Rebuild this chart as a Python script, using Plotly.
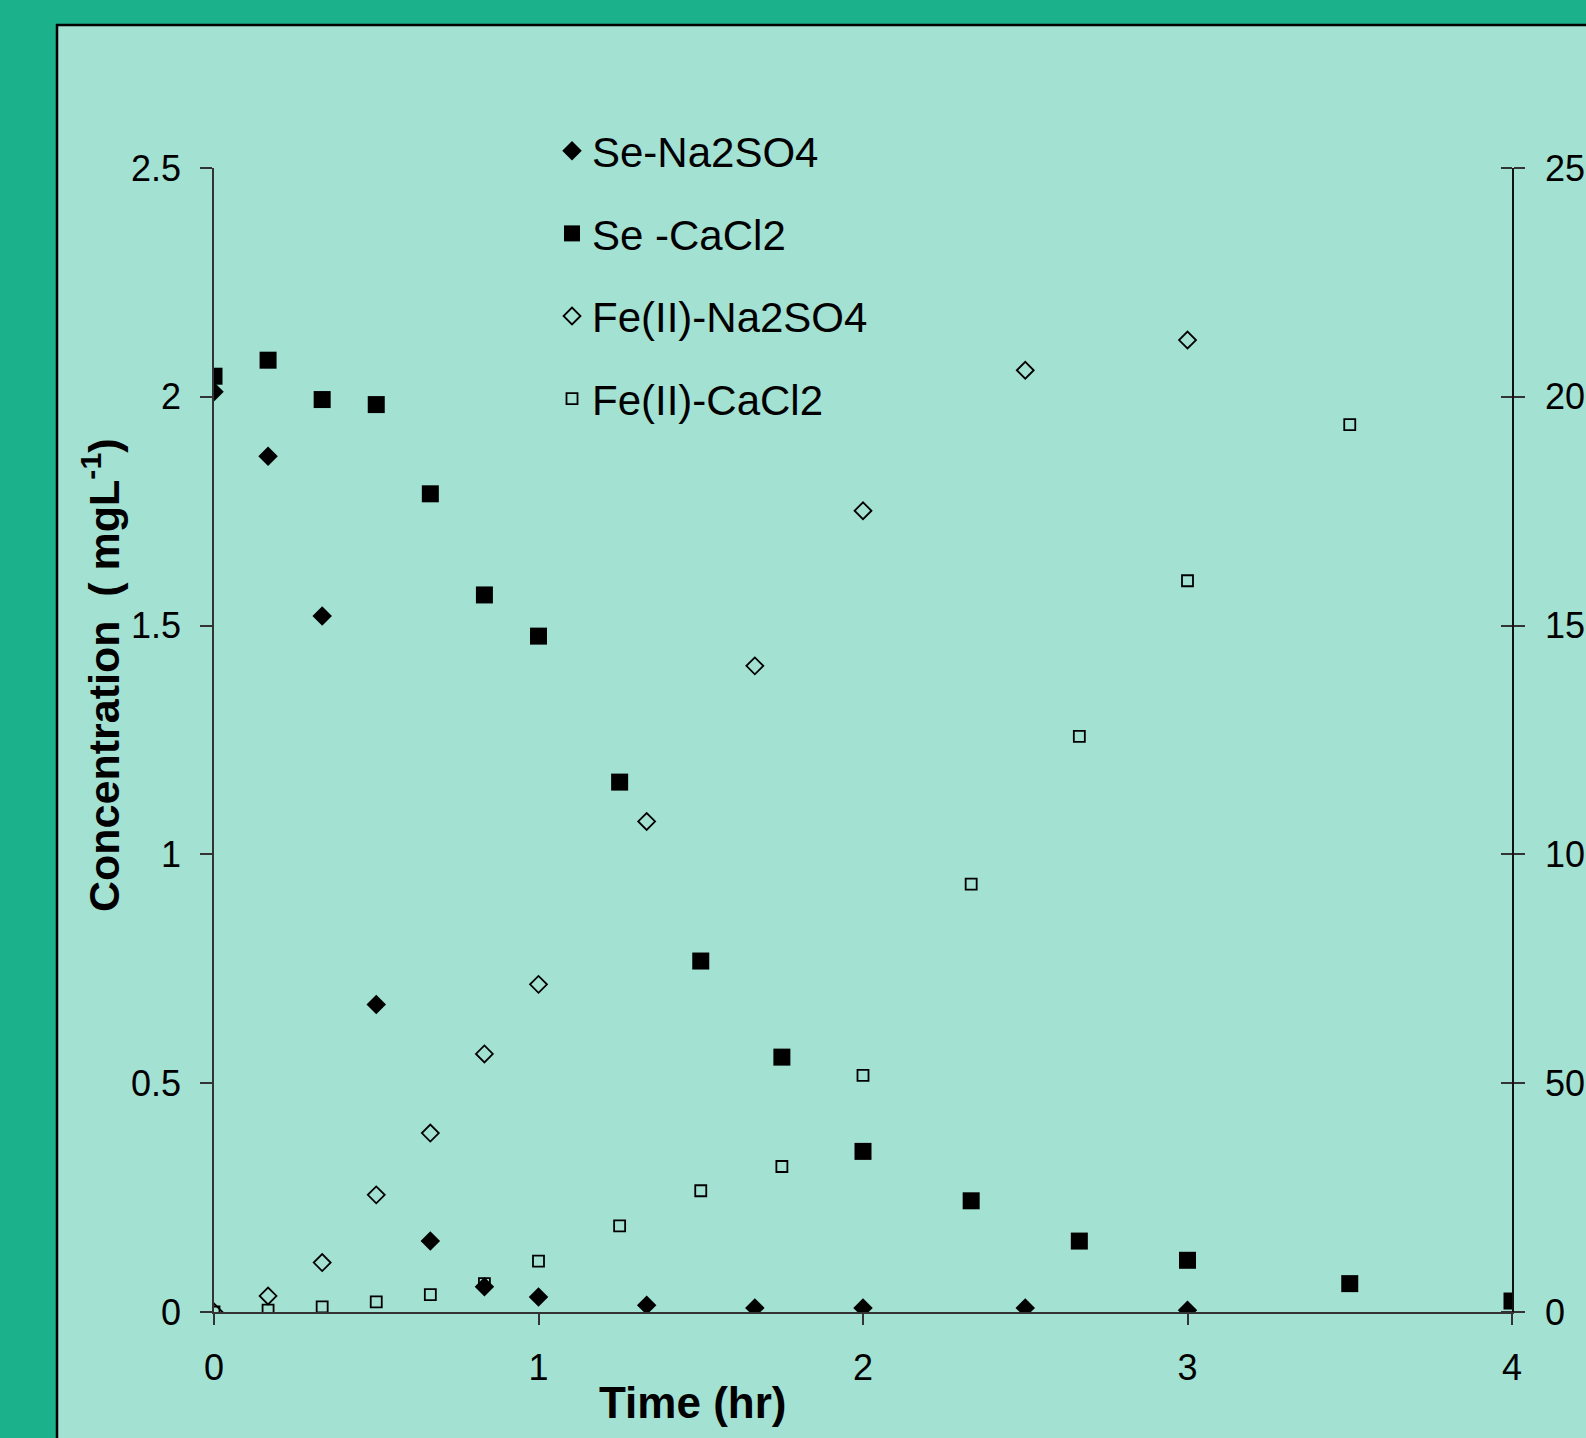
import plotly.graph_objects as go

# ---- data ----
t_se_na = [0, 1/6, 1/3, 0.5, 2/3, 5/6, 1, 4/3, 5/3, 2, 2.5, 3]
se_na = [2.011, 1.870, 1.521, 0.672, 0.155, 0.055, 0.033, 0.015, 0.009, 0.009, 0.009, 0.004]

t_se_ca = [0, 1/6, 1/3, 0.5, 2/3, 5/6, 1, 1.25, 1.5, 1.75, 2, 7/3, 8/3, 3, 3.5, 4]
se_ca = [2.045, 2.080, 1.994, 1.983, 1.788, 1.567, 1.477, 1.158, 0.767, 0.557, 0.351, 0.243, 0.155, 0.113, 0.062, 0.024]

t_fe_na = [0, 1/6, 1/3, 0.5, 2/3, 5/6, 1, 4/3, 5/3, 2, 2.5, 3]
fe_na = [0, 3.5, 10.8, 25.6, 39.1, 56.4, 71.6, 107.2, 141.2, 175.1, 205.8, 212.4]

t_fe_ca = [0, 1/6, 1/3, 0.5, 2/3, 5/6, 1, 1.25, 1.5, 1.75, 2, 7/3, 8/3, 3, 3.5]
fe_ca = [0, 0.4, 1.1, 2.2, 3.8, 6.2, 11.1, 18.8, 26.5, 31.8, 51.7, 93.5, 125.8, 159.8, 193.9]

x_ticks = [0, 1, 2, 3, 4]
y_ticks = [0, 0.5, 1, 1.5, 2, 2.5]
y_tick_text = ["0", "0.5", "1", "1.5", "2", "2.5"]
y2_ticks = [0, 50, 100, 150, 200, 250]

FONT = "Liberation Sans, Arial, sans-serif"
OUTER = "#1bb28b"
PANEL = "#a3e1d3"
AX = "#333333"

fig = go.Figure()
fig.add_trace(go.Scatter(x=t_se_na, y=se_na, mode="markers", name="Se-Na2SO4",
                         legendgroup="a",
                         marker=dict(symbol="diamond", size=15, color="black")))
fig.add_trace(go.Scatter(x=t_se_ca, y=se_ca, mode="markers", name="Se -CaCl2",
                         legendgroup="b",
                         marker=dict(symbol="square", size=17, color="black")))
fig.add_trace(go.Scatter(x=t_fe_na, y=fe_na, mode="markers", name="Fe(II)-Na2SO4",
                         yaxis="y2", legendgroup="c",
                         marker=dict(symbol="diamond-open", size=13, color="black",
                                     line=dict(width=1.8, color="black"))))
fig.add_trace(go.Scatter(x=t_fe_ca, y=fe_ca, mode="markers", name="Fe(II)-CaCl2",
                         yaxis="y2", legendgroup="d",
                         marker=dict(symbol="square-open", size=11, color="black",
                                     line=dict(width=1.8, color="black"))))

W, H = 1586, 1438
L, R, T, B = 214, 74, 168, 126
pw = W - L - R
ph = H - T - B

def px2x(px):
    return (px - L) / pw

def py2y(py):
    return (H - B - py) / ph

fig.add_shape(type="rect", xref="paper", yref="paper",
              x0=px2x(57), x1=px2x(1700), y0=py2y(25), y1=py2y(1600),
              fillcolor=PANEL, line=dict(color="black", width=2.5), layer="below")

fig.add_annotation(text="<b>Time (hr)</b>", xref="paper", yref="paper",
                   x=px2x(692), y=py2y(1402), showarrow=False,
                   xanchor="center", yanchor="middle",
                   font=dict(family=FONT, size=44, color="black"))
fig.add_annotation(text="<b>Concentration  ( mgL<sup>-1</sup>)</b>", xref="paper", yref="paper",
                   x=px2x(101), y=py2y(676), showarrow=False, textangle=-90,
                   xanchor="center", yanchor="middle",
                   font=dict(family=FONT, size=43, color="black"))

fig.update_layout(
    width=W, height=H,
    margin=dict(l=L, r=R, t=T, b=B, pad=0, autoexpand=False),
    paper_bgcolor=OUTER,
    plot_bgcolor="rgba(0,0,0,0)",
    font=dict(family=FONT, size=36, color="black"),
    showlegend=True,
    legend=dict(x=px2x(552), y=py2y(117), xanchor="left", yanchor="top",
                bgcolor="rgba(0,0,0,0)", font=dict(family=FONT, size=42, color="black"),
                tracegroupgap=25, traceorder="grouped", itemclick=False),
    xaxis=dict(range=[0, 4], tickvals=x_ticks, ticktext=[str(v) for v in x_ticks],
               automargin=False,
               showgrid=False, zeroline=False, showline=True, linecolor=AX, linewidth=1.5,
               ticks="outside", ticklen=11, tickwidth=1.5, tickcolor=AX,
               ticklabelstandoff=12, tickfont=dict(size=36)),
    yaxis=dict(range=[0, 2.5], tickvals=y_ticks, ticktext=y_tick_text,
               automargin=False,
               showgrid=False, zeroline=False, showline=True, linecolor=AX, linewidth=1.5,
               ticks="outside", ticklen=12, tickwidth=1.5, tickcolor=AX,
               ticklabelstandoff=12, tickfont=dict(size=36)),
    yaxis2=dict(range=[0, 250], tickvals=y2_ticks, ticktext=[str(v) for v in y2_ticks],
                overlaying="y", side="right", anchor="x", automargin=False,
                showgrid=False, zeroline=False, showline=True, linecolor="#111111", linewidth=1.5,
                ticks="outside", ticklen=11, tickwidth=1.5, tickcolor=AX,
                minor=dict(tickmode="array", tickvals=y2_ticks, ticks="inside", ticklen=11,
                           tickwidth=1.5, tickcolor=AX, showgrid=False),
                ticklabelstandoff=13, tickfont=dict(size=36)),
)

fig.write_html("out.html")
